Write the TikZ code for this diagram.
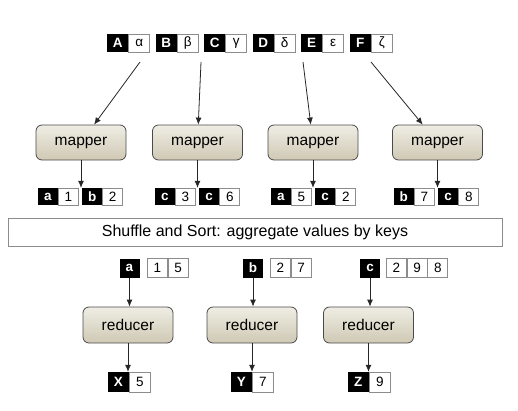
\documentclass[tikz,border=0pt]{standalone}
\usepackage{fontspec}
\setmainfont{Liberation Sans}
\usetikzlibrary{arrows.meta,calc}
\definecolor{mtop}{HTML}{EFEDE4}
\definecolor{mbot}{HTML}{CFC9B4}
\definecolor{mborder}{HTML}{4A4A4A}
\definecolor{vborder}{HTML}{8C8C8C}
\tikzset{
  keyb/.style={fill=black, text=white, font=\fontsize{13.5}{13.5}\selectfont\bfseries, inner sep=0pt, minimum width=20pt, minimum height=17pt},
  valb/.style={fill=white, draw=vborder, line width=0.7pt, text=black, font=\fontsize{13.5}{13.5}\selectfont, inner sep=0pt, minimum width=20pt, minimum height=17pt},
  procbox/.style={rounded corners=6pt, draw=mborder, line width=0.8pt, top color=mtop, bottom color=mbot, minimum width=90pt, minimum height=35pt, inner sep=0pt, font=\fontsize{15.5}{15.5}\selectfont},
  arr/.style={draw=black!85, line width=0.8pt, -{Latex[length=7pt,width=6pt]}},
}
\begin{document}
\begin{tikzpicture}[x=1pt,y=-1pt]
\useasboundingbox (0,0) rectangle (518,410);

% top input pairs
\foreach \i/\k/\v/\x in {1/A/α/107,2/B/β/155.5,3/C/γ/204,4/D/δ/252.5,5/E/ε/301,6/F/ζ/349.5} {
  \node[keyb, minimum width=21pt, minimum height=18pt, anchor=west] (tk\i) at (\x,43) {\k};
  \node[valb, minimum width=21pt, minimum height=18pt, anchor=west] (tv\i) at (tk\i.east) {\v};
}
\coordinate (s1) at (140,62);
\coordinate (s2) at (201,62);
\coordinate (s3) at (303,62);
\coordinate (s4) at (371,62);

% mappers
\foreach \i/\cx in {1/81,2/197.5,3/313,4/437.5} {
  \node[procbox] (m\i) at (\cx,142.5) {mapper};
}
\draw[arr] (s1) -- (m1);
\draw[arr] (s2) -- (m2);
\draw[arr] (s3) -- (m3);
\draw[arr] (s4) -- (m4);

% mapper outputs
\foreach \i/\cx/\ka/\va/\kb/\vb in {1/80/a/1/b/2,2/197/c/3/c/6,3/313/a/5/c/2,4/436/b/7/c/8} {
  \node[keyb, anchor=east] (oka\i) at (\cx-22,196.5) {\ka};
  \node[valb, anchor=west] (ova\i) at (oka\i.east) {\va};
  \node[keyb, anchor=west] (okb\i) at (\cx+2,196.5) {\kb};
  \node[valb, anchor=west] (ovb\i) at (okb\i.east) {\vb};
  \draw[arr] (m\i.south) -- (m\i.south |- oka\i.north);
}

% shuffle
\node[draw=vborder, line width=0.8pt, fill=white, minimum width=494pt, minimum height=28pt, inner sep=0pt, font=\fontsize{16}{16}\selectfont] (sh) at (255,232) {Shuffle and Sort: aggregate values by keys};

% reducer inputs
\node[keyb, minimum height=19pt] (rk1) at (129.5,268) {a};
\node[valb, minimum height=19pt, anchor=west] (rv1a) at (147,268) {1};
\node[valb, minimum height=19pt, anchor=west] (rv1b) at (rv1a.east) {5};
\node[keyb, minimum height=19pt] (rk2) at (253,268) {b};
\node[valb, minimum height=19pt, anchor=west] (rv2a) at (270,268) {2};
\node[valb, minimum height=19pt, anchor=west] (rv2b) at (rv2a.east) {7};
\node[keyb, minimum height=19pt] (rk3) at (370,268) {c};
\node[valb, minimum height=19pt, anchor=west] (rv3a) at (386,268) {2};
\node[valb, minimum height=19pt, anchor=west] (rv3b) at (rv3a.east) {9};
\node[valb, minimum height=19pt, anchor=west] (rv3c) at (rv3b.east) {8};

% reducers
\node[procbox, minimum height=36pt] (r1) at (128,325) {reducer};
\node[procbox, minimum height=36pt] (r2) at (252,325) {reducer};
\node[procbox, minimum height=36pt] (r3) at (368.5,325) {reducer};
\draw[arr] (rk1.south) -- (rk1.south |- r1.north);
\draw[arr] (rk2.south) -- (rk2.south |- r2.north);
\draw[arr] (rk3.south) -- (rk3.south |- r3.north);

% outputs
\foreach \i/\cx/\k/\v in {1/129/X/5,2/252/Y/7,3/369/Z/9} {
  \node[keyb, minimum width=21pt, minimum height=20pt, anchor=east] (xk\i) at (\cx,382) {\k};
  \node[valb, minimum width=21pt, minimum height=20pt, anchor=west] (xv\i) at (xk\i.east) {\v};
  \draw[arr] (r\i.south) -- (r\i.south |- xk\i.north);
}
\end{tikzpicture}
\end{document}
